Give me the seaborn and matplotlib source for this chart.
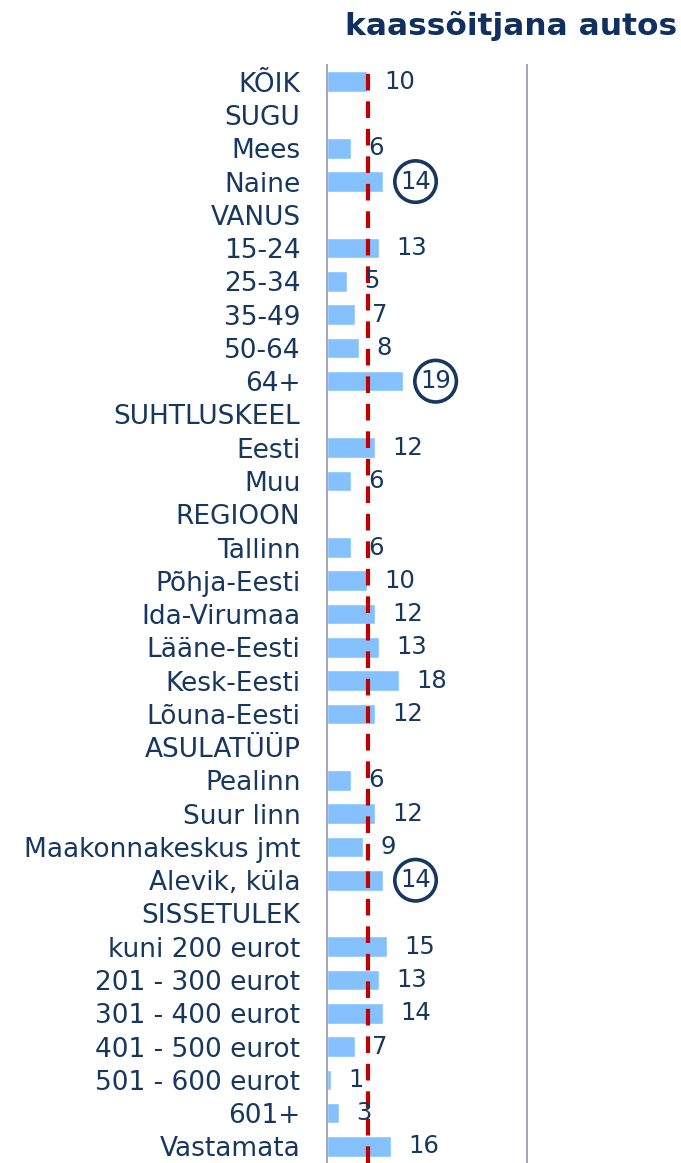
from matplotlib import pyplot as plt
import seaborn as sns
import numpy as np
import pandas as pd

labels = ["KÕIK", "SUGU", "Mees", "Naine", "VANUS", "15-24", "25-34", "35-49",
          "50-64", "64+", "SUHTLUSKEEL", "Eesti", "Muu", "REGIOON", "Tallinn",
          "Põhja-Eesti", "Ida-Virumaa", "Lääne-Eesti", "Kesk-Eesti", "Lõuna-Eesti",
          "ASULATÜÜP", "Pealinn", "Suur linn", "Maakonnakeskus jmt", "Alevik, küla",
          "SISSETULEK", "kuni 200 eurot", "201 - 300 eurot", "301 - 400 eurot",
          "401 - 500 eurot", "501 - 600 eurot", "601+", "Vastamata"]
values = [10, np.nan, 6, 14, np.nan, 13, 5, 7, 8, 19, np.nan, 12, 6, np.nan, 6,
          10, 12, 13, 18, 12, np.nan, 6, 12, 9, 14, np.nan, 15, 13, 14, 7, 1, 3, 16]
circled = ["Naine", "64+", "Alevik, küla"]
average = 10

navy = "#17375E"
df = pd.DataFrame({"group": labels, "pct": values})

sns.set_style("white")
plt.rcParams['font.family'] = ['DejaVu Sans']

fig = plt.figure(figsize=(6.81, 11.63), dpi=100)
ax = fig.add_axes([0.480, 0.0, 0.294, 0.944])

sns.barplot(data=df.dropna(), x="pct", y="group", order=labels, orient="h",
            color="#85C1FF", saturation=1, width=0.62, ax=ax)

ax.axvline(average + 0.3, color="#C00000", lw=3, ls=(0, (4, 2.6)), zorder=3)

for i, (lab, v) in enumerate(zip(labels, values)):
    if np.isnan(v):
        continue
    kw = {}
    if lab in circled:
        kw["bbox"] = dict(boxstyle="circle,pad=0.22", fc="none", ec=navy, lw=2.6)
    ax.text(v + 4.3, i, f"{int(v)}", va="center", ha="left", fontsize=17.5,
            color=navy, zorder=4, **kw)

ax.set_xlim(0, 50)
ax.set_ylim(len(labels) - 0.5, -0.5)
ax.set_xlabel("")
ax.set_ylabel("")
ax.set_xticks([])
ax.tick_params(axis="y", length=0, pad=19, labelsize=19, labelcolor=navy)
for s in ["top", "bottom"]:
    ax.spines[s].set_visible(False)
for s in ["left", "right"]:
    ax.spines[s].set_color("#A6A6BC")
    ax.spines[s].set_linewidth(1.5)

fig.text(0.995, 0.978, "kaassõitjana autos", ha="right", va="center",
         fontsize=22.5, fontweight="bold", color="#10305F")

fig.savefig("out.png", dpi=100)
